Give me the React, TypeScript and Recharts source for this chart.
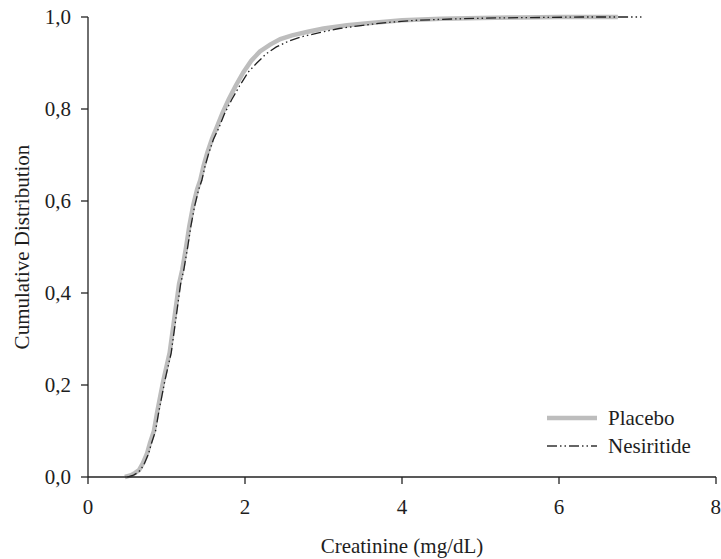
import { LineChart, Line, XAxis, YAxis } from "recharts";

const placeboX = [0.47, 0.55, 0.6, 0.65, 0.7, 0.75, 0.79, 0.84, 0.88, 0.92, 0.96, 1.0, 1.04, 1.08, 1.12, 1.16, 1.2, 1.25, 1.29, 1.34, 1.39, 1.43, 1.47, 1.52, 1.58, 1.64, 1.71, 1.79, 1.88, 1.98, 2.08, 2.19, 2.32, 2.45, 2.6, 2.8, 3.0, 3.3, 3.6, 4.0, 4.5, 5.0, 5.5, 6.0, 6.75];
const placeboY = [0, 0.004, 0.009, 0.015, 0.03, 0.05, 0.074, 0.1, 0.14, 0.175, 0.21, 0.24, 0.27, 0.32, 0.37, 0.42, 0.45, 0.5, 0.545, 0.59, 0.625, 0.645, 0.675, 0.705, 0.735, 0.76, 0.79, 0.82, 0.85, 0.88, 0.905, 0.925, 0.94, 0.952, 0.96, 0.968, 0.975, 0.982, 0.987, 0.993, 0.996, 0.998, 0.999, 1.0, 1.0];

const nesiritideX = [0.5, 0.58, 0.63, 0.67, 0.72, 0.77, 0.81, 0.86, 0.9, 0.94, 0.98, 1.02, 1.06, 1.1, 1.14, 1.18, 1.22, 1.27, 1.31, 1.36, 1.41, 1.45, 1.49, 1.54, 1.6, 1.67, 1.74, 1.83, 1.93, 2.04, 2.15, 2.27, 2.4, 2.55, 2.72, 2.95, 3.2, 3.5, 3.8, 4.2, 4.7, 5.2, 5.8, 6.3, 7.05];
const nesiritideY = [0, 0.004, 0.009, 0.015, 0.03, 0.05, 0.074, 0.1, 0.14, 0.175, 0.21, 0.24, 0.27, 0.32, 0.37, 0.42, 0.45, 0.5, 0.545, 0.59, 0.625, 0.645, 0.675, 0.705, 0.735, 0.76, 0.79, 0.82, 0.85, 0.88, 0.9, 0.92, 0.935, 0.947, 0.957, 0.966, 0.975, 0.982, 0.988, 0.993, 0.996, 0.998, 0.999, 1.0, 1.0];

const xTicks = [0, 2, 4, 6, 8];
const yTicks = [0, 0.2, 0.4, 0.6, 0.8, 1.0];

const placebo = placeboX.map((x, i) => ({ x, y: placeboY[i] }));
const nesiritide = nesiritideX.map((x, i) => ({ x, y: nesiritideY[i] }));

const font = "'Liberation Serif', 'Times New Roman', serif";
const textColor = "#1e1e1e";
const axisColor = "#222";
const placeboColor = "#bdbdbd";
const nesDash = "10 3 1.5 3 1.5 3";

function LegendBox() {
  const row = { display: "flex", alignItems: "center", height: 28 } as const;
  return (
    <div style={{ position: "absolute", left: 545, top: 404, fontFamily: font, fontSize: 21, color: textColor, lineHeight: 1 }}>
      <div style={row}>
        <svg width={63} height={10}>
          <line x1={2} y1={5} x2={52} y2={5} stroke={placeboColor} strokeWidth={4.5} />
        </svg>
        <span>Placebo</span>
      </div>
      <div style={row}>
        <svg width={63} height={10}>
          <line x1={2} y1={5} x2={52} y2={5} stroke="#333" strokeWidth={1.3} strokeDasharray={nesDash} />
        </svg>
        <span>Nesiritide</span>
      </div>
    </div>
  );
}

export default function App() {
  return (
    <div style={{ position: "absolute", left: 0, top: 0, width: 721, height: 559, background: "#fff", overflow: "hidden" }}>
      <LineChart width={721} height={559} margin={{ top: 17, right: 5, bottom: 0, left: 0 }}>
        <XAxis
          type="number"
          dataKey="x"
          domain={[0, 8]}
          ticks={xTicks}
          allowDuplicatedCategory={false}
          height={82}
          tickSize={7}
          tickMargin={15}
          stroke={axisColor}
          strokeWidth={1.3}
          tick={{ fill: textColor, fontSize: 21, fontFamily: font }}
          label={{ value: "Creatinine (mg/dL)", position: "insideBottom", offset: 6, fill: textColor, fontSize: 21, fontFamily: font }}
        />
        <YAxis
          type="number"
          dataKey="y"
          domain={[0, 1]}
          ticks={yTicks}
          width={88}
          tickSize={7}
          tickMargin={10}
          stroke={axisColor}
          strokeWidth={1.3}
          tickFormatter={(v: number) => v.toFixed(1).replace(".", ",")}
          tick={{ fill: textColor, fontSize: 21, fontFamily: font }}
          label={{ value: "Cumulative Distribution", angle: -90, position: "insideLeft", offset: 22, style: { textAnchor: "middle" }, fill: textColor, fontSize: 21, fontFamily: font }}
        />
        <Line
          data={placebo}
          dataKey="y"
          type="linear"
          stroke={placeboColor}
          strokeWidth={4.5}
          dot={false}
          isAnimationActive={false}
        />
        <Line
          data={nesiritide}
          dataKey="y"
          type="linear"
          stroke="#222"
          strokeWidth={1.3}
          strokeDasharray={nesDash}
          dot={false}
          isAnimationActive={false}
        />
      </LineChart>
      <LegendBox />
    </div>
  );
}
